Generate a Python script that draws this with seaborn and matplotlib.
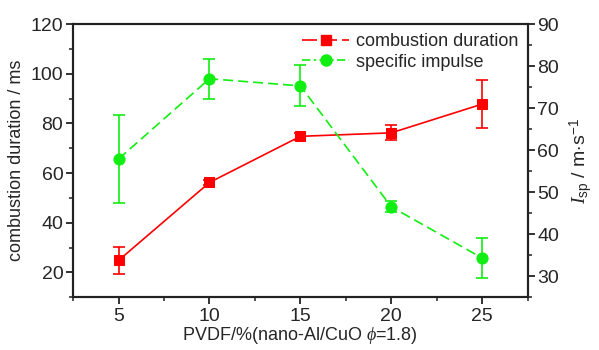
import numpy as np
import pandas as pd
import matplotlib
matplotlib.use('Agg')
import matplotlib.pyplot as plt
import seaborn as sns
from matplotlib.lines import Line2D
from matplotlib.ticker import MultipleLocator

# data
pvdf = [5, 10, 15, 20, 25]
duur = [24.8, 56.2, 74.8, 76.2, 87.8]
duur_err = [5.5, 1.0, 1.5, 3.0, 9.8]
impuls = [57.9, 77.0, 75.3, 46.5, 34.3]
impuls_err = [10.4, 4.8, 4.9, 1.3, 4.8]

sns.set_style('ticks')
plt.rcParams['font.family'] = ['Liberation Sans', 'DejaVu Sans']
plt.rcParams['mathtext.fontset'] = 'custom'
plt.rcParams['mathtext.it'] = 'Liberation Serif:italic'
plt.rcParams['mathtext.rm'] = 'Liberation Sans'

rood = '#ff0000'
groen = '#11ee11'

df = pd.DataFrame({'pvdf': pvdf, 'duur': duur, 'impuls': impuls})

fig = plt.figure(figsize=(5.99, 3.5), dpi=100)
ax = fig.add_axes([0.122, 0.151, 0.759, 0.78])
ax2 = ax.twinx()

sns.lineplot(data=df, x='pvdf', y='duur', ax=ax, color=rood, marker='s',
             markersize=7, markeredgecolor=rood, linewidth=1.2)
ax.errorbar(pvdf, duur, yerr=duur_err, fmt='none', ecolor=rood,
            elinewidth=1.2, capsize=4, capthick=1.2)

sns.lineplot(data=df, x='pvdf', y='impuls', ax=ax2, color=groen, marker='o',
             markersize=8, markeredgecolor=groen, linewidth=1.2)
ax2.lines[0].set_dashes([6, 3])
ax2.errorbar(pvdf, impuls, yerr=impuls_err, fmt='none', ecolor=groen,
             elinewidth=1.2, capsize=4, capthick=1.2)

ax.set_xlim(2.5, 27.5)
ax.set_ylim(10, 120)
ax2.set_ylim(25, 90)
ax.set_xticks(pvdf)
ax.xaxis.set_minor_locator(MultipleLocator(2.5))
ax.set_yticks([20, 40, 60, 80, 100, 120])
ax.yaxis.set_minor_locator(MultipleLocator(10))
ax2.set_yticks([30, 40, 50, 60, 70, 80, 90])
ax2.yaxis.set_minor_locator(MultipleLocator(5))

for a in (ax, ax2):
    for s in a.spines.values():
        s.set_linewidth(1.5)
        s.set_color('#222222')
        s.set_visible(True)
    a.tick_params(which='major', direction='out', length=5, width=1.3,
                  labelsize=14, color='#222222', pad=2)
    a.tick_params(which='minor', direction='out', length=3, width=1.1,
                  color='#222222')
ax.tick_params(axis='x', pad=3)

ax.set_xlabel(r'PVDF/%(nano-Al/CuO $\it{\phi}$=1.8)', fontsize=13, labelpad=0)
ax.set_ylabel('combustion duration / ms', fontsize=13, labelpad=4)
ax2.set_ylabel(r'$I_{\mathrm{sp}}$ / m$\cdot$s$^{-1}$', fontsize=14, labelpad=6)

handles = [
    Line2D([], [], color=rood, marker='s', markersize=7, linewidth=1.2,
           dashes=[9, 3]),
    Line2D([], [], color=groen, marker='o', markersize=8, linewidth=1.2,
           dashes=[5, 2, 1.5, 2]),
]
ax.legend(handles, ['combustion duration', 'specific impulse'],
          loc='upper right', frameon=False, fontsize=13, handlelength=2.6,
          borderaxespad=0.1, labelspacing=0.2, handletextpad=0.4)

fig.savefig('out.png', dpi=100)
